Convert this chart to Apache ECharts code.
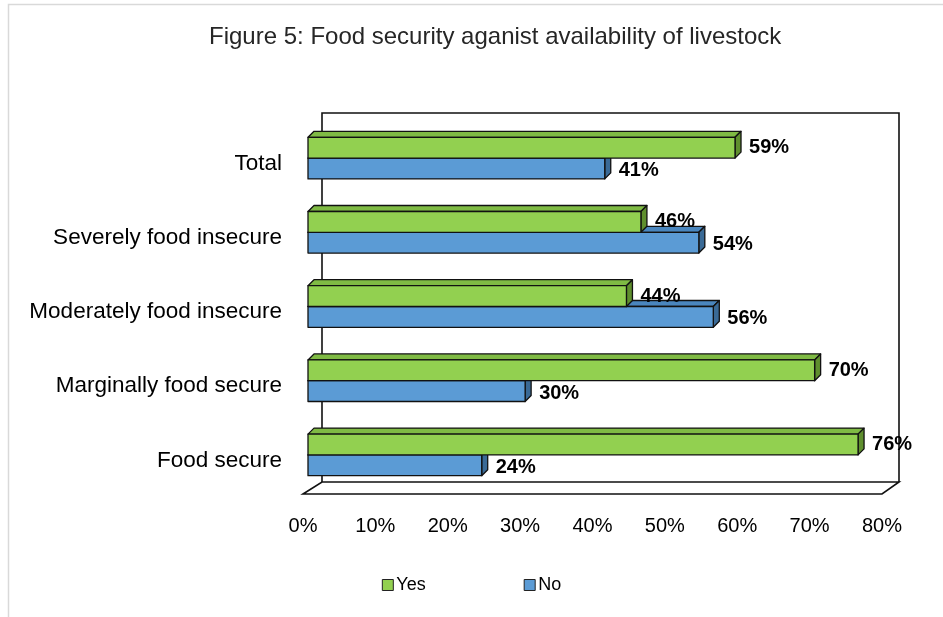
<!DOCTYPE html>
<html>
<head>
<meta charset="utf-8">
<script src="https://cdn.jsdelivr.net/npm/echarts@6/dist/echarts.min.js"></script>
<style>
html,body{margin:0;padding:0;background:#fff;}
#chart{width:943px;height:617px;}
</style>
</head>
<body>
<div id="chart"></div>
<script>
var categories = ['Total', 'Severely food insecure', 'Moderately food insecure', 'Marginally food secure', 'Food secure'];
var yesValues = [59, 46, 44, 70, 76];
var noValues = [41, 54, 56, 30, 24];
var xTicks = [0, 10, 20, 30, 40, 50, 60, 70, 80];
var seriesNames = ['Yes', 'No'];

var FONT = 'Liberation Sans, Arial, sans-serif';
var chart = echarts.init(document.getElementById('chart'));

var palettes = {
  Yes: {front: '#92D050', top: '#7FBA44', side: '#5F8F2E'},
  No: {front: '#5B9BD5', top: '#4A86BE', side: '#3A6A96'}
};

function makeRender(name, isYes) {
  var pal = palettes[name];
  return function (params, api) {
    var v = api.value(0), c = api.value(1);
    var p0 = api.coord([0, c]);
    var p1 = api.coord([v, c]);
    var band = api.size([0, 1])[1];
    var th = band * 0.28;
    var cy = p0[1];
    var yTop = isYes ? cy - th : cy;
    var yBot = isYes ? cy : cy + th;
    var x0 = p0[0] + 5, x1 = p1[0] + 5;
    var dx = 6, dy = -6;
    var stroke = {stroke: '#111', lineWidth: 1.3, lineJoin: 'round'};
    return {
      type: 'group',
      children: [
        {type: 'polygon', shape: {points: [[x0, yTop], [x0 + dx, yTop + dy], [x1 + dx, yTop + dy], [x1, yTop]]},
          style: Object.assign({fill: pal.top}, stroke)},
        {type: 'polygon', shape: {points: [[x1, yTop], [x1 + dx, yTop + dy], [x1 + dx, yBot + dy], [x1, yBot]]},
          style: Object.assign({fill: pal.side}, stroke)},
        {type: 'rect', shape: {x: x0, y: yTop, width: x1 - x0, height: yBot - yTop},
          style: Object.assign({fill: pal.front}, stroke)},
        {type: 'text', style: {x: x1 + dx + 8, y: (yTop + yBot) / 2 + (isYes ? 0 : 2), text: v + '%',
          fill: '#000', font: 'bold 20px ' + FONT, textAlign: 'left', textVerticalAlign: 'middle'}}
      ]
    };
  };
}

function toData(vals) {
  return vals.map(function (v, i) { return [v, i]; });
}

var option = {
  animation: false,
  backgroundColor: '#fff',
  title: {
    text: 'Figure 5: Food security aganist availability of livestock',
    left: 204,
    top: 20,
    textStyle: {fontFamily: FONT, fontSize: 24, fontWeight: 'normal', color: '#262626'}
  },
  grid: {left: 303, right: 61, top: 121, bottom: 125, containLabel: false},
  xAxis: {
    type: 'value', min: 0, max: 80, interval: 10,
    axisLine: {show: false}, axisTick: {show: false}, splitLine: {show: false},
    axisLabel: {formatter: '{value}%', margin: 24, color: '#000', fontFamily: FONT, fontSize: 20}
  },
  yAxis: {
    type: 'category', data: categories, inverse: true,
    axisLine: {show: false}, axisTick: {show: false}, splitLine: {show: false},
    axisLabel: {
      margin: 21, color: '#000', fontFamily: FONT, fontSize: 22.5,
      formatter: function (v) { return '{a|' + v + '}'; },
      rich: {a: {fontFamily: FONT, fontSize: 22.5, color: '#000', padding: [11, 0, 0, 0]}}
    }
  },
  legend: {
    data: seriesNames,
    left: 'center',
    top: 571,
    icon: 'rect',
    itemWidth: 11, itemHeight: 11, itemGap: 98,
    textStyle: {fontFamily: FONT, fontSize: 18, color: '#000', padding: [0, 0, 0, -2]},
    itemStyle: {borderColor: '#222', borderWidth: 1}
  },
  series: [
    {name: 'No', type: 'custom', renderItem: makeRender('No', false), data: toData(noValues),
      itemStyle: {color: palettes.No.front}, z: 2},
    {name: 'Yes', type: 'custom', renderItem: makeRender('Yes', true), data: toData(yesValues),
      itemStyle: {color: palettes.Yes.front}, z: 3}
  ]
};
chart.setOption(option);

// 3D wall and floor, positioned from the axis scales
var xs = chart.convertToPixel({xAxisIndex: 0}, xTicks[0]);
var xe = chart.convertToPixel({xAxisIndex: 0}, xTicks[xTicks.length - 1]);
var yFirst = chart.convertToPixel({yAxisIndex: 0}, categories[0]);
var yLast = chart.convertToPixel({yAxisIndex: 0}, categories[categories.length - 1]);
var half = (yLast - yFirst) / (categories.length - 1) / 2;
var gridTop = yFirst - half, gridBot = yLast + half;
var ddx = 17, ddy = -12;
var frontY = gridBot + 2;
var backY = frontY + ddy;
chart.setOption({
  graphic: [
    {type: 'rect', z: -10, shape: {x: 8.5, y: 4.5, width: 1000, height: 700},
      style: {fill: 'none', stroke: '#d9d9d9', lineWidth: 1.5}, silent: true},
    {type: 'polyline', z: 0, shape: {points: [[xs + ddx + 2, backY], [xs + ddx + 2, gridTop - 8], [xe + ddx, gridTop - 8], [xe + ddx, backY]]},
      style: {fill: 'none', stroke: '#111', lineWidth: 1.6}, silent: true},
    {type: 'polygon', z: 0, shape: {points: [[xs, frontY], [xs + ddx + 2, backY], [xe + ddx, backY], [xe, frontY]]},
      style: {fill: '#fff', stroke: '#111', lineWidth: 1.6}, silent: true}
  ]
});
</script>
</body>
</html>
